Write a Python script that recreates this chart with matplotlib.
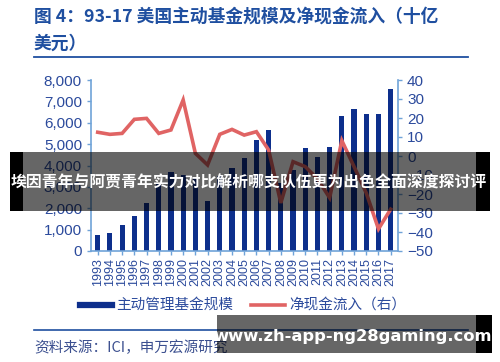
import matplotlib
matplotlib.use('Agg')
import matplotlib.pyplot as plt
from matplotlib.patches import Rectangle
from matplotlib.lines import Line2D

plt.rcParams['font.family'] = ['Noto Sans CJK SC', 'DejaVu Sans']

# 数据（十亿美元）
years = [str(y) for y in range(1993, 2018)]
assets = [750, 820, 1210, 1630, 2240, 3180, 3680, 3550, 3450, 2340, 3500, 3880, 4350,
          5190, 5650, 3200, 3800, 4800, 4380, 4880, 6320, 6630, 6390, 6430, 7570]
flows = [12.5, 11.4, 11.9, 19.3, 19.8, 11.9, 13.7, 29.5, 1.4, -4.7, 11.4, 14.0, 11.0,
         12.8, 3.2, -24.7, -3.0, -5.6, -12.0, -22.0, 8.1, -5.6, -19.5, -38.4, -28.0]

W, H = 500, 362
navy = '#0d2f8c'
red = '#e06464'
txt = '#2b4a9c'
spine = '#6fa3d8'

fig = plt.figure(figsize=(W / 100, H / 100), dpi=100)
fig.patch.set_facecolor('white')

def fx(px):
    return px / W

def fy(py):
    return 1 - py / H

ax = fig.add_axes([fx(91), fy(251), fx(398) - fx(91), fy(80) - fy(251)])
x = list(range(len(years)))
ax.bar(x, assets, width=0.42, color=navy, zorder=2)
ax.set_ylim(0, 8000)
ax.set_yticks(range(0, 8001, 1000))
ax.set_yticklabels([f'{v:,}' for v in range(0, 8001, 1000)])
ax.set_xlim(-0.55, 24.6)
ax.set_xticks(x)
ax.set_xticklabels(years, rotation=90)

ax2 = ax.twinx()
ax2.plot(x, flows, color=red, lw=2.6, solid_joinstyle='miter', zorder=3)
ax2.set_ylim(-50, 40)
ax2.set_yticks(range(-50, 41, 10))

for a in (ax, ax2):
    a.spines['top'].set_visible(False)
    for s in ('left', 'right', 'bottom'):
        a.spines[s].set_color(spine)
        a.spines[s].set_linewidth(1.2)
    a.tick_params(colors=spine, labelcolor=txt, length=3, width=1)
    for lab in a.get_xticklabels() + a.get_yticklabels():
        lab.set_family('Liberation Sans')
ax.tick_params(axis='y', labelsize=11)
ax.tick_params(axis='x', labelsize=9, pad=2)
ax2.tick_params(axis='y', labelsize=11)
ax.spines['right'].set_visible(False)
ax2.spines['left'].set_visible(False)
ax2.spines['bottom'].set_visible(False)

# 标题
title_c = '#1f4fa0'
fig.text(fx(34), fy(17), '图 4：93-17 美国主动基金规模及净现金流入（十亿',
         fontsize=12.8, fontweight='bold', color=title_c, va='center', ha='left')
fig.text(fx(34), fy(44), '美元）', fontsize=12.8, fontweight='bold', color=title_c,
         va='center', ha='left')
fig.add_artist(Line2D([fx(34), fx(468)], [fy(57), fy(57)], color='#1f4fa0', lw=1.3))

# 图例
fig.add_artist(Line2D([fx(80), fx(112)], [fy(305), fy(305)], color=navy, lw=4.5))
fig.text(fx(116), fy(305), '主动管理基金规模', fontsize=10.5, color=txt, va='center')
fig.add_artist(Line2D([fx(251), fx(285)], [fy(305), fy(305)], color=red, lw=2.6))
fig.text(fx(289), fy(305), '净现金流入（右）', fontsize=10.5, color=txt, va='center')

fig.add_artist(Line2D([fx(34), fx(468)], [fy(330), fy(330)], color='#1f4fa0', lw=1.2))
fig.text(fx(34), fy(348), '资料来源：ICI，申万宏源研究', fontsize=10.5, color='#3b4f8f',
         va='center', ha='left')

# 覆盖横幅：两端不透明，中间半透明
def band(x0, x1, y0, y1, solid_l, solid_r):
    h = fy(y0) - fy(y1)
    fig.add_artist(Rectangle((fx(x0), fy(y1)), fx(solid_l) - fx(x0), h,
                             transform=fig.transFigure, color='black', lw=0, zorder=10))
    fig.add_artist(Rectangle((fx(solid_r), fy(y1)), fx(x1) - fx(solid_r), h,
                             transform=fig.transFigure, color='black', lw=0, zorder=10))
    fig.add_artist(Rectangle((fx(solid_l), fy(y1)), fx(solid_r) - fx(solid_l), h,
                             transform=fig.transFigure, color='black', alpha=0.6, lw=0, zorder=10))

band(10, 490, 152, 211, 23, 476)
fig.text(fx(249), fy(183), '埃因青年与阿贾青年实力对比解析哪支队伍更为出色全面深度探讨评',
         fontsize=11.4, fontweight='bold', color='white', ha='center', va='center', zorder=11)

band(217, 492, 315, 353, 217, 476)
fig.text(fx(353), fy(337), 'www.zh-app-ng28gaming.com', fontsize=11.8, fontweight='bold',
         color='white', ha='center', va='center', zorder=11, family='DejaVu Sans')

fig.savefig('out.png', dpi=100)
